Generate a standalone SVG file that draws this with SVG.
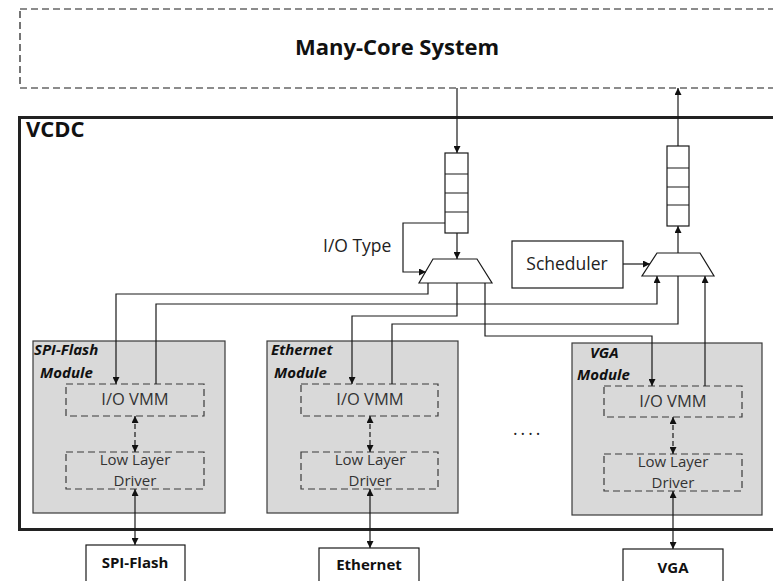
<svg xmlns="http://www.w3.org/2000/svg" width="773" height="581" viewBox="0 0 773 581">
  <defs>
    <marker id="ah" viewBox="0 0 10 10" refX="10" refY="5" markerWidth="7" markerHeight="7" markerUnits="userSpaceOnUse" orient="auto-start-reverse">
      <path d="M0,0 L10,5 L0,10 z" fill="#111"/>
    </marker>
    <style>
      .ln { fill: none; stroke: #1a1a1a; stroke-width: 1.2; }
      .arr { fill: none; stroke: #1a1a1a; stroke-width: 1.2; marker-end: url(#ah); }
      .bi { fill: none; stroke: #1a1a1a; stroke-width: 1.2; marker-start: url(#ah); marker-end: url(#ah); }
      .bid { fill: none; stroke: #1a1a1a; stroke-width: 1.2; stroke-dasharray: 5 3; marker-start: url(#ah); marker-end: url(#ah); }
      .box { fill: #fff; stroke: #1a1a1a; stroke-width: 1.2; }
      .mod { fill: #d9d9d9; stroke: #3a3a3a; stroke-width: 1.2; }
      .sub { fill: none; stroke: #3a3a3a; stroke-width: 1.2; stroke-dasharray: 7 4; }
      .t { font-family: "Open Sans", "Liberation Sans", sans-serif; font-size: 17.5px; fill: #222; }
      .st { font-family: "Open Sans", "Liberation Sans", sans-serif; font-size: 16.5px; fill: #333; text-anchor: middle; }
      .dt { font-family: "Open Sans", "Liberation Sans", sans-serif; font-size: 15px; fill: #333; text-anchor: middle; }
      .mt { font-family: "Open Sans", "Liberation Sans", sans-serif; font-size: 15px; font-weight: bold; font-style: italic; fill: #111; }
      .bt { font-family: "Open Sans", "Liberation Sans", sans-serif; font-size: 15px; font-weight: bold; fill: #111; text-anchor: middle; }
    </style>
  </defs>

  <!-- host system -->
  <g id="many-core">
    <rect x="20" y="9" width="800" height="79" fill="#fff" stroke="#1a1a1a" stroke-width="1.2" stroke-dasharray="7 4"/>
    <text x="397" y="55" text-anchor="middle" font-family="Open Sans, Liberation Sans, sans-serif" font-size="22" font-weight="bold" fill="#111">Many-Core System</text>
  </g>

  <!-- controller frame -->
  <g id="vcdc">
    <rect x="19.5" y="117.5" width="800" height="412" fill="#fff" stroke="#222" stroke-width="3"/>
    <text x="26" y="137" font-family="Open Sans, Liberation Sans, sans-serif" font-size="22" font-weight="bold" fill="#111">VCDC</text>
  </g>

  <!-- input queue -->
  <g id="fifo-in">
    <rect class="box" x="445" y="153" width="23" height="80"/>
    <path class="ln" d="M445,174 H468 M445,193 H468 M445,212 H468"/>
  </g>

  <!-- output queue -->
  <g id="fifo-out">
    <rect class="box" x="667" y="146" width="22" height="80"/>
    <path class="ln" d="M667,168 H689 M667,187 H689 M667,205 H689"/>
  </g>

  <g id="demux">
    <path class="box" d="M433,259 H477 L492,283 H419 Z"/>
  </g>

  <g id="mux">
    <path class="box" d="M657,253 H700 L714,276 H642 Z"/>
  </g>

  <g id="scheduler">
    <rect class="box" x="512" y="241" width="111" height="47"/>
    <text class="t" x="567" y="270" text-anchor="middle">Scheduler</text>
  </g>

  <g id="io-type-label">
    <text class="t" x="323" y="252">I/O Type</text>
  </g>

  <!-- device modules -->
  <g id="spi-module">
    <rect class="mod" x="33" y="341" width="192" height="172"/>
    <text class="mt" x="34" y="355">SPI-Flash</text>
    <text class="mt" x="40" y="378">Module</text>
    <rect class="sub" x="66" y="384" width="138" height="32"/>
    <text class="st" x="135" y="405">I/O VMM</text>
    <rect class="sub" x="66" y="452" width="138" height="37"/>
    <text class="dt" x="135" y="465">Low Layer</text>
    <text class="dt" x="135" y="486">Driver</text>
  </g>

  <g id="ethernet-module">
    <rect class="mod" x="267" y="341" width="191" height="172"/>
    <text class="mt" x="271" y="355">Ethernet</text>
    <text class="mt" x="274" y="378">Module</text>
    <rect class="sub" x="301" y="384" width="137" height="32"/>
    <text class="st" x="370" y="405">I/O VMM</text>
    <rect class="sub" x="301" y="452" width="137" height="37"/>
    <text class="dt" x="370" y="465">Low Layer</text>
    <text class="dt" x="370" y="486">Driver</text>
  </g>

  <g id="vga-module">
    <rect class="mod" x="572" y="343" width="190" height="172"/>
    <text class="mt" x="590" y="358">VGA</text>
    <text class="mt" x="577" y="380">Module</text>
    <rect class="sub" x="604" y="386" width="138" height="31"/>
    <text class="st" x="673" y="407">I/O VMM</text>
    <rect class="sub" x="604" y="454" width="138" height="37"/>
    <text class="dt" x="673" y="467">Low Layer</text>
    <text class="dt" x="673" y="488">Driver</text>
  </g>

  <g id="ellipsis">
    <text class="t" x="513" y="435" font-size="16" letter-spacing="3">....</text>
  </g>

  <!-- physical devices -->
  <g id="spi-flash">
    <rect class="box" x="86" y="545" width="99" height="50"/>
    <text class="bt" x="135" y="568">SPI-Flash</text>
  </g>
  <g id="ethernet">
    <rect class="box" x="319" y="548" width="100" height="50"/>
    <text class="bt" x="369" y="570">Ethernet</text>
  </g>
  <g id="vga">
    <rect class="box" x="623" y="549" width="100" height="50"/>
    <text class="bt" x="673" y="573">VGA</text>
  </g>

  <!-- connectors -->
  <g id="connectors">
    <path class="arr" d="M457,88 V153"/>
    <path class="arr" d="M457,233 V259"/>
    <path class="arr" d="M445,223 H403 V272 H426"/>
    <path class="arr" d="M428,283 V294 H116 V384"/>
    <path class="arr" d="M457,283 V316 H352 V384"/>
    <path class="arr" d="M485,283 V336 H652 V386"/>
    <path class="arr" d="M156,384 V304 H657 V276"/>
    <path class="ln" d="M392,384 V324 H678 V276"/>
    <path class="arr" d="M705,386 V276"/>
    <path class="arr" d="M623,264 H650"/>
    <path class="arr" d="M678,253 V226"/>
    <path class="arr" d="M678,146 V88"/>
    <path class="bid" d="M135,416 V452"/>
    <path class="bid" d="M370,416 V452"/>
    <path class="bid" d="M673,417 V454"/>
    <path class="bi" d="M135,489 V545"/>
    <path class="bi" d="M370,489 V548"/>
    <path class="bi" d="M673,491 V549"/>
  </g>
</svg>
